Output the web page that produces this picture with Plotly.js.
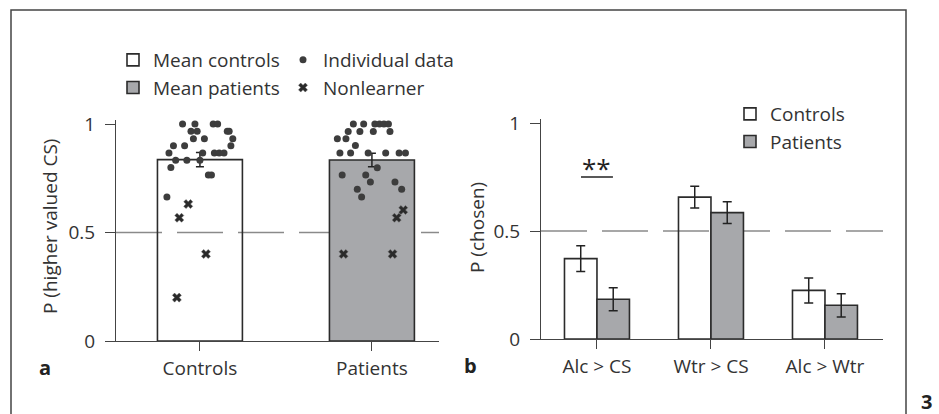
<!DOCTYPE html>
<html>
<head>
<meta charset="utf-8">
<script src="https://cdn.plot.ly/plotly-3.0.1.min.js"></script>
<style>
  html, body { margin: 0; padding: 0; background: #fff; }
  #chart { width: 939px; height: 414px; }
</style>
</head>
<body>
<div id="chart"></div>
<script>
// panel a: mean + individual data
var catsA = ['Controls', 'Patients'];
var meanA = [0.836, 0.834];
var semA = [0.033, 0.031];

// jitter offsets (category units) and values
var ctrlDotX = [-0.101, -0.029, 0.077, 0.103, -0.052, -0.016, 0.159, 0.170, -0.038, 0.026, 0.191,
                -0.154, -0.089, 0.180, -0.180, 0.016, 0.084, 0.112, 0.140, -0.141, -0.076, 0.0,
                -0.169, 0.049, 0.067, -0.192];
var ctrlDotY = [1.0, 1.0, 1.0, 1.0, 0.967, 0.967, 0.967, 0.967, 0.932, 0.932, 0.932,
                0.9, 0.9, 0.9, 0.867, 0.867, 0.867, 0.867, 0.867, 0.833, 0.833, 0.833,
                0.8, 0.765, 0.765, 0.664];
var ctrlNonX = [-0.068, -0.120, 0.035, -0.134];
var ctrlNonY = [0.631, 0.568, 0.401, 0.2];

var patDotX = [-0.108, -0.048, 0.017, 0.044, 0.070, 0.096, -0.138, -0.070, 0.008, 0.105,
               -0.201, -0.151, -0.096, -0.186, -0.124, -0.022, 0.080, 0.158, 0.195,
               0.031, -0.173, -0.036, -0.009, 0.134, -0.085, 0.173, -0.060];
var patDotY = [1.0, 1.0, 1.0, 1.0, 1.0, 1.0, 0.966, 0.966, 0.966, 0.966,
               0.932, 0.932, 0.901, 0.866, 0.866, 0.866, 0.866, 0.866, 0.866,
               0.799, 0.765, 0.765, 0.733, 0.733, 0.699, 0.699, 0.664];
var patNonX = [0.182, 0.144, -0.165, 0.120];
var patNonY = [0.604, 0.568, 0.401, 0.401];

// panel b: choice probabilities
var catsB = ['Alc > CS', 'Wtr > CS', 'Alc > Wtr'];
var ctrlB = [0.372, 0.657, 0.225];
var ctrlSemB = [0.060, 0.050, 0.058];
var patB = [0.184, 0.585, 0.156];
var patSemB = [0.053, 0.050, 0.054];

var txt = '#333';
var edge = '#2b2b2b';
var grey = '#a7a8ab';
var fs = 19;
var W = 939, H = 414;

function shift(arr, c){
    return arr.map(function(v){ return v + c; });
}
function px(x){ return x / W; }
function py(y){ return (H - y) / H; }

var barW = 0.494;

var traces = [
    {
        type: 'bar', name: 'Mean controls', legend: 'legend', legendrank: 1,
        x: [0], y: [meanA[0]], width: barW, offset: -barW / 2,
        marker: {color: 'rgba(0,0,0,0)', line: {color: edge, width: 1.6}},
        error_y: {type: 'data', array: [semA[0]], color: '#222', thickness: 1.5, width: 4},
        xaxis: 'x', yaxis: 'y', hoverinfo: 'y'
    },
    {
        type: 'bar', name: 'Mean patients', legend: 'legend', legendrank: 2,
        x: [1], y: [meanA[1]], width: barW, offset: -barW / 2,
        marker: {color: grey, line: {color: edge, width: 1.6}},
        error_y: {type: 'data', array: [semA[1]], color: '#222', thickness: 1.5, width: 4},
        xaxis: 'x', yaxis: 'y', hoverinfo: 'y'
    },
    {
        type: 'scatter', mode: 'markers', name: 'Individual data', legend: 'legend2', legendrank: 3,
        x: ctrlDotX, y: ctrlDotY, cliponaxis: false,
        marker: {color: '#3d3d3d', size: 7},
        xaxis: 'x', yaxis: 'y'
    },
    {
        type: 'scatter', mode: 'markers', name: 'Individual data', showlegend: false,
        x: shift(patDotX, 1), y: patDotY, cliponaxis: false,
        marker: {color: '#3d3d3d', size: 7},
        xaxis: 'x', yaxis: 'y'
    },
    {
        type: 'scatter', mode: 'markers', name: 'Nonlearner', legend: 'legend2', legendrank: 4,
        x: ctrlNonX, y: ctrlNonY, cliponaxis: false,
        marker: {color: '#2a2a2a', size: 8, symbol: 'x', line: {color: '#666', width: 0.5}},
        xaxis: 'x', yaxis: 'y'
    },
    {
        type: 'scatter', mode: 'markers', name: 'Nonlearner', showlegend: false,
        x: shift(patNonX, 1), y: patNonY, cliponaxis: false,
        marker: {color: '#2a2a2a', size: 8, symbol: 'x', line: {color: '#666', width: 0.5}},
        xaxis: 'x', yaxis: 'y'
    },
    {
        type: 'bar', name: 'Controls', legend: 'legend3', legendgroup: 'c',
        x: [0, 1, 2], y: ctrlB,
        marker: {color: 'rgba(0,0,0,0)', line: {color: edge, width: 1.6}},
        error_y: {type: 'data', array: ctrlSemB, color: '#222', thickness: 1.5, width: 4.5},
        xaxis: 'x2', yaxis: 'y2'
    },
    {
        type: 'bar', name: 'Patients', legend: 'legend3', legendgroup: 'p',
        x: [0, 1, 2], y: patB,
        marker: {color: grey, line: {color: edge, width: 1.6}},
        error_y: {type: 'data', array: patSemB, color: '#222', thickness: 1.5, width: 4.5},
        xaxis: 'x2', yaxis: 'y2'
    }
];

var yBase = {
    range: [0, 1.02], tickvals: [0, 0.5, 1], ticktext: ['0', '0.5', '1'],
    ticks: 'outside', ticklen: 10, tickcolor: '#444', tickwidth: 1,
    showline: true, linecolor: '#444', linewidth: 1,
    showgrid: false, zeroline: false, ticklabelstandoff: 6,
    tickfont: {size: fs, color: txt}, fixedrange: true
};
var xBase = {
    ticks: 'outside', ticklen: 9, tickcolor: '#444', tickwidth: 1,
    showline: true, linecolor: '#444', linewidth: 1,
    showgrid: false, zeroline: false, ticklabelstandoff: 1,
    tickfont: {size: fs, color: txt}, fixedrange: true
};

var legBase = {xanchor: 'left', yanchor: 'top', bgcolor: 'rgba(0,0,0,0)',
               font: {size: fs, color: txt}, traceorder: 'normal'};

var layout = {
    width: W, height: H,
    margin: {l: 0, r: 0, t: 0, b: 0},
    paper_bgcolor: '#fff', plot_bgcolor: 'rgba(0,0,0,0)',
    font: {family: 'Open Sans, sans-serif', size: fs, color: txt},
    barmode: 'group', bargap: 0.43, bargroupgap: 0,
    xaxis: Object.assign({}, xBase, {
        domain: [px(116), px(439)], range: [-0.488, 1.39],
        tickvals: [0, 1], ticktext: catsA, anchor: 'y'
    }),
    yaxis: Object.assign({}, yBase, {domain: [py(341), py(119.7)], anchor: 'x'}),
    xaxis2: Object.assign({}, xBase, {
        domain: [px(541), px(883)], range: [-0.491, 2.509],
        tickvals: [0, 1, 2], ticktext: catsB, anchor: 'y2'
    }),
    yaxis2: Object.assign({}, yBase, {domain: [py(339), py(118.7)], anchor: 'x2'}),
    legend: Object.assign({}, legBase, {x: px(113), y: py(41)}),
    legend2: Object.assign({}, legBase, {x: px(283), y: py(41)}),
    legend3: Object.assign({}, legBase, {x: px(730), y: py(95), tracegroupgap: 2}),
    shapes: [
        // chance level
        {type: 'line', xref: 'x domain', yref: 'y', x0: 0, x1: 1, y0: 0.5, y1: 0.5,
         layer: 'below', line: {color: '#8a8a8a', width: 1.5, dash: '46px,15px'}},
        {type: 'line', xref: 'x2 domain', yref: 'y2', x0: 0, x1: 1, y0: 0.5, y1: 0.5,
         layer: 'below', line: {color: '#8a8a8a', width: 1.5, dash: '46px,15px'}},
        // significance bar
        {type: 'line', xref: 'x2', yref: 'y2', x0: -0.14, x1: 0.14, y0: 0.75, y1: 0.75,
         line: {color: '#222', width: 1.5}},
        // figure frame
        {type: 'rect', xref: 'paper', yref: 'paper', x0: px(11), x1: px(906), y0: -0.2, y1: py(10),
         line: {color: '#444', width: 1.5}, fillcolor: 'rgba(0,0,0,0)'}
    ],
    annotations: [
        {text: 'P (higher valued CS)', textangle: -90, xref: 'paper', yref: 'paper',
         x: px(50), y: py(227), xanchor: 'center', yanchor: 'middle', showarrow: false,
         font: {size: fs, color: txt}},
        {text: 'P (chosen)', textangle: -90, xref: 'paper', yref: 'paper',
         x: px(477), y: py(228), xanchor: 'center', yanchor: 'middle', showarrow: false,
         font: {size: fs, color: txt}},
        {text: '**', xref: 'x2', yref: 'y2', x: 0, y: 0.79, yanchor: 'middle',
         showarrow: false, font: {size: 26, color: '#222'}},
        {text: '<b>a</b>', xref: 'paper', yref: 'paper', x: px(45), y: py(367),
         xanchor: 'center', yanchor: 'middle', showarrow: false, font: {size: 20, color: '#222'}},
        {text: '<b>b</b>', xref: 'paper', yref: 'paper', x: px(471), y: py(365),
         xanchor: 'center', yanchor: 'middle', showarrow: false, font: {size: 20, color: '#222'}},
        {text: '<b>3</b>', xref: 'paper', yref: 'paper', x: px(926), y: py(401),
         xanchor: 'center', yanchor: 'middle', showarrow: false, font: {size: 20, color: '#222'}}
    ]
};

var config = {displayModeBar: false, staticPlot: true};

Plotly.newPlot('chart', traces, layout, config);
</script>
</body>
</html>
